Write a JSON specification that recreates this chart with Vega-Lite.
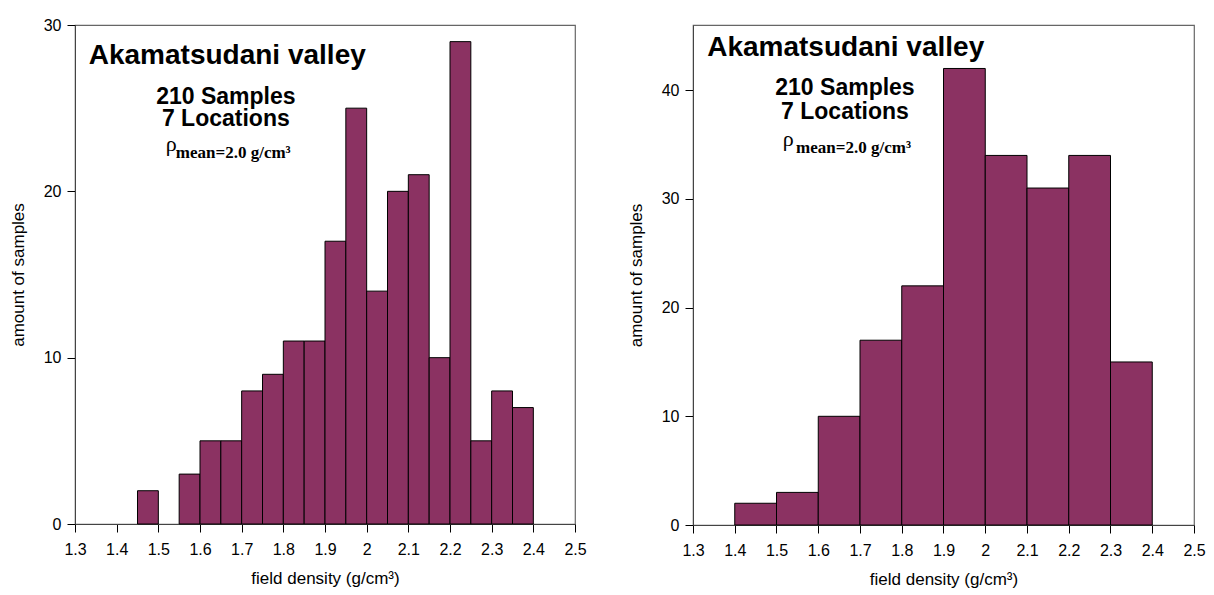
{
  "$schema": "https://vega.github.io/schema/vega-lite/v6.json",
  "background": "white",
  "padding": {"left": 8, "top": 16, "right": 5, "bottom": 5},
  "config": {
    "font": "Liberation Sans",
    "view": {"stroke": "#666", "strokeWidth": 1.2},
    "axis": {
      "grid": false,
      "domainColor": "#444",
      "labelColor": "black",
      "titleColor": "black",
      "labelFont": "Liberation Sans",
      "titleFont": "Liberation Sans",
      "labelFontSize": 16,
      "titleFontSize": 17,
      "titleFontWeight": "normal",
      "labelFlush": false
    }
  },
  "datasets": {
    "fine": [
      {"start": 1.45, "end": 1.5, "count": 2},
      {"start": 1.55, "end": 1.6, "count": 3},
      {"start": 1.6, "end": 1.65, "count": 5},
      {"start": 1.65, "end": 1.7, "count": 5},
      {"start": 1.7, "end": 1.75, "count": 8},
      {"start": 1.75, "end": 1.8, "count": 9},
      {"start": 1.8, "end": 1.85, "count": 11},
      {"start": 1.85, "end": 1.9, "count": 11},
      {"start": 1.9, "end": 1.95, "count": 17},
      {"start": 1.95, "end": 2.0, "count": 25},
      {"start": 2.0, "end": 2.05, "count": 14},
      {"start": 2.05, "end": 2.1, "count": 20},
      {"start": 2.1, "end": 2.15, "count": 21},
      {"start": 2.15, "end": 2.2, "count": 10},
      {"start": 2.2, "end": 2.25, "count": 29},
      {"start": 2.25, "end": 2.3, "count": 5},
      {"start": 2.3, "end": 2.35, "count": 8},
      {"start": 2.35, "end": 2.4, "count": 7}
    ],
    "coarse": [
      {"start": 1.4, "end": 1.5, "count": 2},
      {"start": 1.5, "end": 1.6, "count": 3},
      {"start": 1.6, "end": 1.7, "count": 10},
      {"start": 1.7, "end": 1.8, "count": 17},
      {"start": 1.8, "end": 1.9, "count": 22},
      {"start": 1.9, "end": 2.0, "count": 42},
      {"start": 2.0, "end": 2.1, "count": 34},
      {"start": 2.1, "end": 2.2, "count": 31},
      {"start": 2.2, "end": 2.3, "count": 34},
      {"start": 2.3, "end": 2.4, "count": 15}
    ]
  },
  "spacing": 118,
  "bounds": "flush",
  "hconcat": [
    {
      "width": 500,
      "height": 499,
      "layer": [
        {
          "data": {"name": "fine"},
          "mark": {"type": "bar", "fill": "#8B3262", "stroke": "black", "strokeWidth": 1},
          "encoding": {
            "x": {
              "field": "start", "type": "quantitative",
              "scale": {"domain": [1.3, 2.5], "nice": false, "zero": false},
              "axis": {
                "title": "field density (g/cm³)",
                "values": [1.3, 1.4, 1.5, 1.6, 1.7, 1.8, 1.9, 2.0, 2.1, 2.2, 2.3, 2.4, 2.5],
                "format": "~g",
                "ticks": true,
                "tickSize": 8,
                "tickColor": "black",
                "tickWidth": 1,
                "labelOverlap": false,
                "labelPadding": 9,
                "titlePadding": 13
              }
            },
            "x2": {"field": "end"},
            "y": {
              "field": "count", "type": "quantitative",
              "scale": {"domain": [0, 30], "nice": false},
              "axis": {
                "title": "amount of samples",
                "values": [0, 10, 20, 30],
                "ticks": true,
                "tickSize": 8,
                "tickColor": "black",
                "tickWidth": 1,
                "labelOverlap": false,
                "labelPadding": 6,
                "titlePadding": 16
              }
            },
            "y2": {"datum": 0}
          }
        },
        {
          "data": {"values": [{"label": "Akamatsudani valley"}]},
          "mark": {"type": "text", "font": "Liberation Sans", "fontWeight": "bold", "fontSize": 28, "align": "left", "baseline": "alphabetic", "color": "black"},
          "encoding": {"x": {"datum": 1.333}, "y": {"datum": 27.65}, "text": {"field": "label"}}
        },
        {
          "data": {"values": [{"label": "210 Samples"}]},
          "mark": {"type": "text", "font": "Liberation Sans", "fontWeight": "bold", "fontSize": 23, "align": "center", "baseline": "alphabetic", "color": "black"},
          "encoding": {"x": {"datum": 1.662}, "y": {"datum": 25.25}, "text": {"field": "label"}}
        },
        {
          "data": {"values": [{"label": "7 Locations"}]},
          "mark": {"type": "text", "font": "Liberation Sans", "fontWeight": "bold", "fontSize": 23, "align": "center", "baseline": "alphabetic", "color": "black"},
          "encoding": {"x": {"datum": 1.662}, "y": {"datum": 23.93}, "text": {"field": "label"}}
        },
        {
          "data": {"values": [{"label": "ρ"}]},
          "mark": {"type": "text", "font": "Liberation Serif", "fontSize": 22, "align": "left", "baseline": "alphabetic", "color": "black"},
          "encoding": {"x": {"datum": 1.518}, "y": {"datum": 22.42}, "text": {"field": "label"}}
        },
        {
          "data": {"values": [{"label": "mean=2.0 g/cm³"}]},
          "mark": {"type": "text", "font": "Liberation Serif", "fontWeight": "bold", "fontSize": 17, "align": "left", "baseline": "alphabetic", "color": "black"},
          "encoding": {"x": {"datum": 1.542}, "y": {"datum": 22.0}, "text": {"field": "label"}}
        }
      ]
    },
    {
      "width": 501,
      "height": 500,
      "layer": [
        {
          "data": {"name": "coarse"},
          "mark": {"type": "bar", "fill": "#8B3262", "stroke": "black", "strokeWidth": 1},
          "encoding": {
            "x": {
              "field": "start", "type": "quantitative",
              "scale": {"domain": [1.3, 2.5], "nice": false, "zero": false},
              "axis": {
                "title": "field density (g/cm³)",
                "values": [1.3, 1.4, 1.5, 1.6, 1.7, 1.8, 1.9, 2.0, 2.1, 2.2, 2.3, 2.4, 2.5],
                "format": "~g",
                "ticks": true,
                "tickSize": 8,
                "tickColor": "black",
                "tickWidth": 1,
                "labelOverlap": false,
                "labelPadding": 9,
                "titlePadding": 13
              }
            },
            "x2": {"field": "end"},
            "y": {
              "field": "count", "type": "quantitative",
              "scale": {"domain": [0, 46], "nice": false},
              "axis": {
                "title": "amount of samples",
                "values": [0, 10, 20, 30, 40],
                "ticks": true,
                "tickSize": 8,
                "tickColor": "black",
                "tickWidth": 1,
                "labelOverlap": false,
                "labelPadding": 6,
                "titlePadding": 16
              }
            },
            "y2": {"datum": 0}
          }
        },
        {
          "data": {"values": [{"label": "Akamatsudani valley"}]},
          "mark": {"type": "text", "font": "Liberation Sans", "fontWeight": "bold", "fontSize": 28, "align": "left", "baseline": "alphabetic", "color": "black"},
          "encoding": {"x": {"datum": 1.334}, "y": {"datum": 43.15}, "text": {"field": "label"}}
        },
        {
          "data": {"values": [{"label": "210 Samples"}]},
          "mark": {"type": "text", "font": "Liberation Sans", "fontWeight": "bold", "fontSize": 23, "align": "center", "baseline": "alphabetic", "color": "black"},
          "encoding": {"x": {"datum": 1.664}, "y": {"datum": 39.56}, "text": {"field": "label"}}
        },
        {
          "data": {"values": [{"label": "7 Locations"}]},
          "mark": {"type": "text", "font": "Liberation Sans", "fontWeight": "bold", "fontSize": 23, "align": "center", "baseline": "alphabetic", "color": "black"},
          "encoding": {"x": {"datum": 1.664}, "y": {"datum": 37.35}, "text": {"field": "label"}}
        },
        {
          "data": {"values": [{"label": "ρ"}]},
          "mark": {"type": "text", "font": "Liberation Serif", "fontSize": 22, "align": "left", "baseline": "alphabetic", "color": "black"},
          "encoding": {"x": {"datum": 1.515}, "y": {"datum": 34.87}, "text": {"field": "label"}}
        },
        {
          "data": {"values": [{"label": "mean=2.0 g/cm³"}]},
          "mark": {"type": "text", "font": "Liberation Serif", "fontWeight": "bold", "fontSize": 17, "align": "left", "baseline": "alphabetic", "color": "black"},
          "encoding": {"x": {"datum": 1.547}, "y": {"datum": 34.22}, "text": {"field": "label"}}
        }
      ]
    }
  ]
}
